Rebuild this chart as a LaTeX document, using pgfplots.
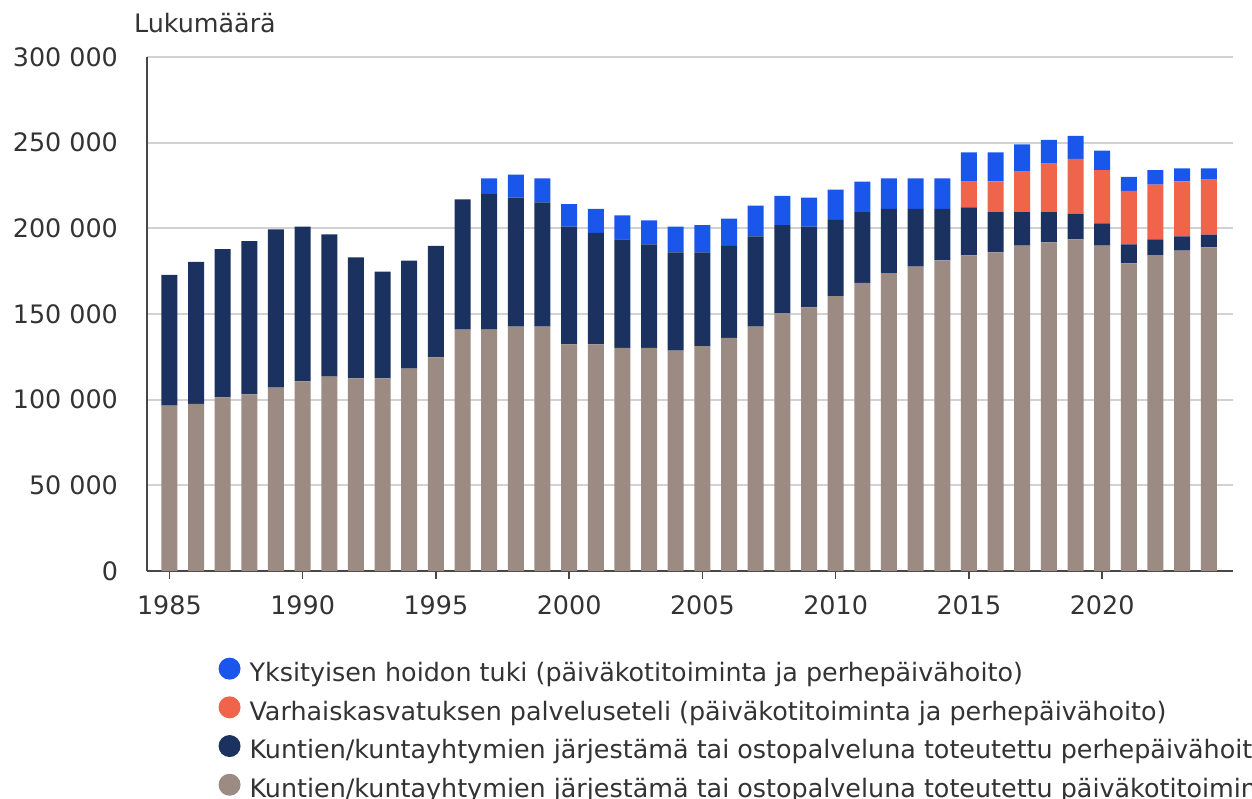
\documentclass[border=0pt]{standalone}
\usepackage{fontspec}
\setmainfont{DejaVu Sans}
\usepackage{pgfplots}
\usepackage{pgfplotstable}
\pgfplotsset{compat=1.18}

\definecolor{cgray}{RGB}{155,139,131}
\definecolor{cnavy}{RGB}{27,49,96}
\definecolor{corange}{RGB}{241,100,76}
\definecolor{cblue}{RGB}{26,86,236}
\definecolor{txt}{RGB}{51,51,51}
\definecolor{gridc}{RGB}{210,210,210}

% year, then the four stacked parts (bottom to top)
\pgfplotstableread{
year gray   navy  orange blue
1985 96500  76300 0      0
1986 97500  82900 0      0
1987 101400 86500 0      0
1988 103100 89500 0      0
1989 107000 92400 0      0
1990 110700 90300 0      0
1991 113400 83100 0      0
1992 112500 70600 0      0
1993 112500 62200 0      0
1994 118100 63000 0      0
1995 124700 65000 0      0
1996 140900 76000 0      0
1997 140900 79000 0      9300
1998 142600 75300 0      13400
1999 142600 72600 0      14000
2000 132300 68700 0      13200
2001 132300 65000 0      14000
2002 130300 63300 0      14000
2003 130300 60400 0      14000
2004 128600 57400 0      15000
2005 131300 54700 0      15900
2006 136000 53700 0      15900
2007 142600 52700 0      17900
2008 150400 51500 0      17000
2009 153900 47100 0      16900
2010 160500 44400 0      17700
2011 168100 41400 0      17700
2012 173800 37500 0      17900
2013 177600 33700 0      17900
2014 181300 30000 0      17900
2015 184200 28100 15000  17100
2016 186000 23500 17900  17000
2017 189900 19600 23600  15900
2018 191800 17700 28200  14000
2019 193600 15000 31900  13400
2020 189900 13000 31100  11300
2021 179600 11100 31100  8300
2022 184300 9300  31900  8500
2023 187000 8300  32100  7600
2024 188900 7400  32100  6600
}\data

\begin{document}
\begin{tikzpicture}[font=\fontsize{12.7}{15}\selectfont]
\useasboundingbox (-73.5pt,-113.5pt) rectangle (552.5pt,285.5pt);
\clip (-73.5pt,-113.5pt) rectangle (552.5pt,285.5pt);
\begin{axis}[
  at={(0pt,0pt)}, anchor=south west,
  scale only axis, width=543pt, height=257pt,
  ybar stacked, bar width=8pt,
  xmin=1984.16, xmax=2024.91, ymin=0, ymax=300000,
  axis lines=left,
  axis line style={-, draw=black!72, line width=1pt},
  xtick={1985,1990,...,2020},
  ytick={0,50000,...,300000},
  scaled y ticks=false,
  tick align=outside,
  major tick length=4pt,
  xtick style={draw=black!72, line width=0.8pt},
  ytick style={draw=none},
  ymajorgrids, grid style={gridc, line width=1pt},
  /pgf/number format/assume math mode=true,
  ticklabel style={font=\fontsize{12.7}{15}\selectfont, text=txt},
  xticklabel style={/pgf/number format/1000 sep={}, yshift=-5pt},
  yticklabel style={/pgf/number format/.cd, fixed, 1000 sep={\ }, /tikz/.cd, xshift=-7pt},
  ylabel={Lukumäärä},
  ylabel style={rotate=-90, at={(rel axis cs:0,1)}, anchor=base west,
    xshift=-10pt, yshift=12.5pt, text=txt, font=\fontsize{12.7}{15}\selectfont},
  reverse legend,
  legend cell align=left,
  legend image code/.code={\fill[#1, draw=none] (0pt,0.36em) circle (5.5pt);},
  legend style={at={(axis description cs:0.060,-0.16)}, anchor=north west,
    draw=none, fill=none, row sep=3pt, text=txt,
    font=\fontsize{12.7}{15}\selectfont,
    nodes={text height=0.8em, text depth=0.25em},
    /tikz/every odd column/.append style={column sep=2.5pt}},
]
\addplot[fill=cgray, draw=none] table[x=year, y=gray]{\data};
\addlegendentry{Kuntien/kuntayhtymien järjestämä tai ostopalveluna toteutettu päiväkotitoiminta}
\addplot[fill=cnavy, draw=none] table[x=year, y=navy]{\data};
\addlegendentry{Kuntien/kuntayhtymien järjestämä tai ostopalveluna toteutettu perhepäivähoito}
\addplot[fill=corange, draw=none] table[x=year, y=orange]{\data};
\addlegendentry{Varhaiskasvatuksen palveluseteli (päiväkotitoiminta ja perhepäivähoito)}
\addplot[fill=cblue, draw=none] table[x=year, y=blue]{\data};
\addlegendentry{Yksityisen hoidon tuki (päiväkotitoiminta ja perhepäivähoito)}
\end{axis}
\end{tikzpicture}
\end{document}
